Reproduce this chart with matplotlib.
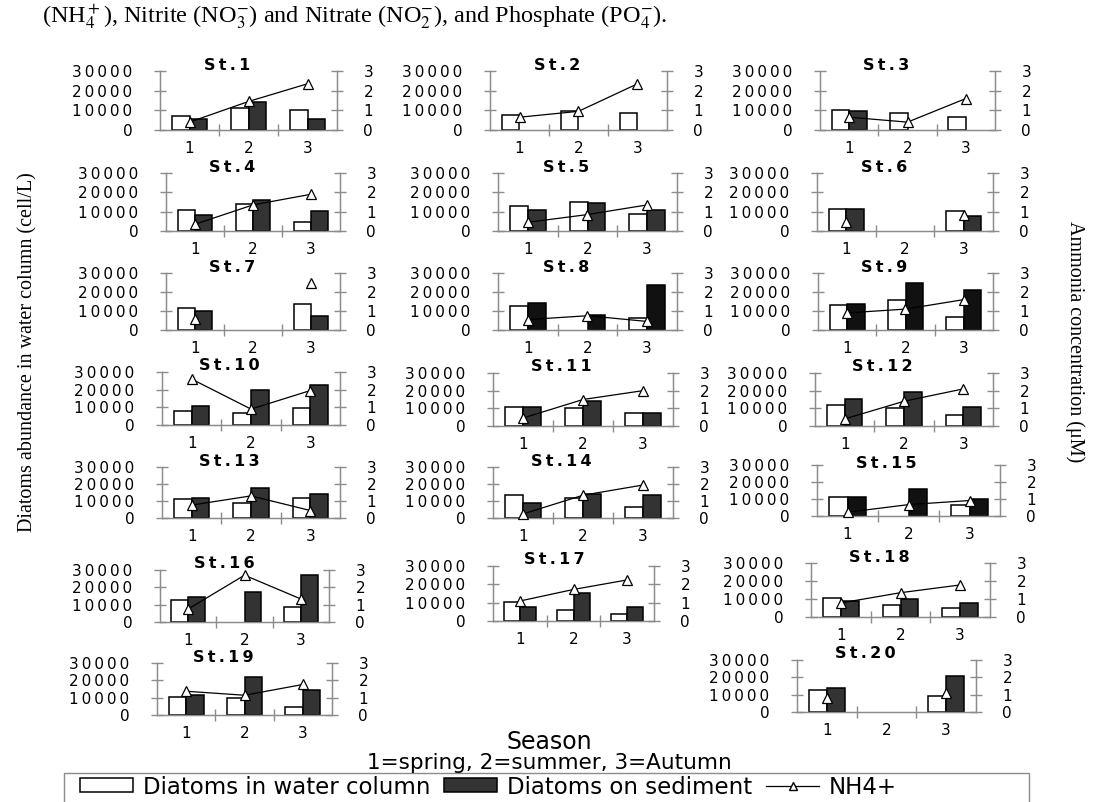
import numpy as np
import matplotlib
matplotlib.use('Agg')
import matplotlib.pyplot as plt
from matplotlib.patches import Patch, Rectangle
from matplotlib.lines import Line2D

# ---------------- data ----------------
stations = ['St.%d' % i for i in range(1, 21)]
seasons = [1, 2, 3]
season_labels = ['1', '2', '3']
left_ticks = [0, 10000, 20000, 30000]
right_ticks = [0, 1, 2, 3]
nan = np.nan

water_column = [
    [7000, 11200, 10000],   # St.1
    [7700, 9700, 8600],     # St.2
    [10300, 8700, 6600],    # St.3
    [10900, 13800, 4800],   # St.4
    [13100, 15200, 8800],   # St.5
    [11400, nan, 10200],    # St.6
    [11500, nan, 13500],    # St.7
    [12800, nan, 6200],     # St.8
    [13000, 15800, 7000],   # St.9
    [8000, 7000, 9500],     # St.10
    [11000, 10000, 7500],   # St.11
    [12000, 10000, 6000],   # St.12
    [11000, 9000, 11600],   # St.13
    [13400, 11600, 6400],   # St.14
    [11300, nan, 6400],     # St.15
    [12700, nan, 8400],     # St.16
    [10300, 6000, 3600],    # St.17
    [10600, 6500, 5000],    # St.18
    [10400, 10000, 4500],   # St.19
    [12600, nan, 9100],     # St.20
]

sediment = [
    [5600, 14200, 5600],    # St.1
    [nan, nan, nan],        # St.2
    [9700, nan, nan],       # St.3
    [8300, 16000, 10500],   # St.4
    [11000, 14700, 11000],  # St.5
    [11400, nan, 8000],     # St.6
    [10000, nan, 7200],     # St.7
    [14200, 8000, 23500],   # St.8
    [13800, 24500, 20800],  # St.9
    [10700, 20000, 22500],  # St.10
    [11000, 14000, 7500],   # St.11
    [15500, 19000, 10500],  # St.12
    [12000, 17400, 14400],  # St.13
    [9000, 14400, 13400],   # St.14
    [10900, 15800, 10000],  # St.15
    [14300, 17300, 27400],  # St.16
    [7400, 15200, 7400],    # St.17
    [8800, 10000, 7900],    # St.18
    [11400, 22100, 14700],  # St.19
    [13900, nan, 20900],    # St.20
]

nh4 = [
    [0.40, 1.45, 2.35],     # St.1
    [0.65, 0.95, 2.35],     # St.2
    [0.65, 0.40, 1.60],     # St.3
    [0.35, 1.35, 1.90],     # St.4
    [0.45, 0.85, 1.35],     # St.5
    [0.47, nan, 0.82],      # St.6
    [0.60, nan, 2.50],      # St.7
    [0.55, 0.75, 0.45],     # St.8
    [0.90, 1.10, 1.60],     # St.9
    [2.60, 0.90, 1.95],     # St.10
    [0.45, 1.50, 2.00],     # St.11
    [0.40, 1.40, 2.10],     # St.12
    [0.76, 1.30, 0.44],     # St.13
    [0.24, 1.34, 1.94],     # St.14
    [0.22, 0.67, 0.91],     # St.15
    [0.75, 2.70, 1.33],     # St.16
    [1.09, 1.72, 2.24],     # St.17
    [0.78, 1.35, 1.78],     # St.18
    [1.37, 1.14, 1.76],     # St.19
    [0.81, nan, 1.12],      # St.20
]

# ---------------- layout (pixels: left, right, top(30000), zero) ----------------
W, H = 1096, 802
axes_px = [
    (160, 337, 71, 130), (490, 667, 71, 130), (820, 995, 71, 130),
    (166, 340, 173, 231), (498, 677, 173, 231), (817, 993, 173, 231),
    (166, 340, 273, 330), (498, 677, 273, 330), (818, 993, 273, 330),
    (162, 340, 372, 425), (493, 673, 373, 426), (815, 993, 373, 426),
    (162, 340, 467, 518), (493, 673, 467, 518), (817, 1000, 465, 516),
    (160, 329, 570, 622), (493, 654, 566, 621), (811, 990, 563, 617),
    (157, 332, 663, 715), (797, 976, 660, 712),
]
title_offset_px = [6] * 20
title_offset_px[14] = 1
dark_bar = ['#333333'] * 20
for i in (7, 8, 14):
    dark_bar[i] = '#111111'

SP = '\u2009'
def spaced(s):
    return SP.join(list(s))

sans = ['DejaVu Sans']
serif = ['Liberation Serif', 'DejaVu Serif']
plt.rcParams['font.family'] = sans
plt.rcParams['mathtext.fontset'] = 'stix'

fig = plt.figure(figsize=(W / 100, H / 100), dpi=100)
gray = '#8c8c8c'
tick_fs = 11

for k, (x0, x1, top, zero) in enumerate(axes_px):
    ax = fig.add_axes([x0 / W, 1 - zero / H, (x1 - x0) / W, (zero - top) / H])
    x = np.array(seasons, dtype=float)
    ax.bar(x - 0.15, water_column[k], width=0.3, color='white',
           edgecolor='black', linewidth=1.1, zorder=2)
    ax.bar(x + 0.15, sediment[k], width=0.3, color=dark_bar[k],
           edgecolor='black', linewidth=1.1, zorder=2)
    ax.set_xlim(0.5, 3.5)
    ax.set_ylim(0, 30000)
    ax.set_yticks(left_ticks)
    ax.set_yticklabels([spaced(str(v)) for v in left_ticks], fontsize=tick_fs)
    ax.set_xticks(seasons)
    ax.set_xticklabels(season_labels, fontsize=tick_fs)
    ax.set_xticks([1.5, 2.5], minor=True)
    ax.tick_params(axis='x', which='major', length=0, pad=8)
    ax.tick_params(axis='x', which='minor', direction='inout', length=8,
                   color=gray, width=1)
    ax.tick_params(axis='y', direction='inout', length=8, color=gray,
                   width=1, pad=16)
    for s in ('left', 'bottom', 'right'):
        ax.spines[s].set_color(gray)
        ax.spines[s].set_linewidth(1)
    ax.spines['top'].set_visible(False)
    ax.patch.set_alpha(0)

    ax2 = ax.twinx()
    ax2.plot(x, nh4[k], color='black', linewidth=0.9, marker='^',
             markersize=7.5, markerfacecolor='white', markeredgecolor='black',
             markeredgewidth=0.9, zorder=5, clip_on=False)
    ax2.set_ylim(0, 3)
    ax2.set_yticks(right_ticks)
    ax2.set_yticklabels([str(v) for v in right_ticks], fontsize=tick_fs)
    ax2.tick_params(axis='y', direction='inout', length=8, color=gray,
                    width=1, pad=15)
    for s in ('left', 'bottom', 'right'):
        ax2.spines[s].set_color(gray)
    ax2.spines['top'].set_visible(False)

    ax.text(0.38, 1.0 + title_offset_px[k] / (zero - top), spaced(stations[k]),
            transform=ax.transAxes, ha='center', va='center',
            fontsize=11.5, fontweight='bold')

# header text
fig.text(42 / W, 1 - 17 / H,
         r'(NH$_4^+$), Nitrite (NO$_3^{-}$) and Nitrate (NO$_2^{-}$), and Phosphate (PO$_4^{-}$).',
         family=serif, fontsize=17.5, ha='left', va='center')

# axis titles
fig.text(28 / W, 1 - 352 / H, 'Diatoms abundance in water column (cell/L)',
         family=serif, fontsize=14.5, rotation=90, ha='center', va='center')
fig.text(1075 / W, 1 - 342 / H, 'Ammonia concentration (\u03bcM)',
         family=serif, fontsize=14.5, rotation=270, ha='center', va='center')

fig.text(549 / W, 1 - 742 / H, 'Season', fontsize=17, ha='center', va='center')
fig.text(549 / W, 1 - 763 / H, '1=spring, 2=summer, 3=Autumn', fontsize=15.5,
         ha='center', va='center')

# legend box and legend
fig.patches.append(Rectangle((64 / W, -0.02), (1029 - 64) / W, (802 - 773) / H + 0.02,
                             transform=fig.transFigure, fill=False,
                             edgecolor=gray, linewidth=1))
handles = [
    Patch(facecolor='white', edgecolor='black', linewidth=1.1),
    Patch(facecolor='#333333', edgecolor='black', linewidth=1.1),
    Line2D([0], [0], color='black', linewidth=0.9, marker='^', markersize=5.5,
           markerfacecolor='white', markeredgecolor='black'),
]
labels = ['Diatoms in water column', 'Diatoms on sediment', 'NH4+']
fig.legend(handles, labels, loc='center left', bbox_to_anchor=(80 / W, 1 - 787 / H),
           ncol=3, frameon=False, fontsize=16.5, handlelength=2.3,
           handleheight=0.55, handletextpad=0.45, columnspacing=0.6,
           borderpad=0, borderaxespad=0)

fig.savefig('out.png', dpi=100)
